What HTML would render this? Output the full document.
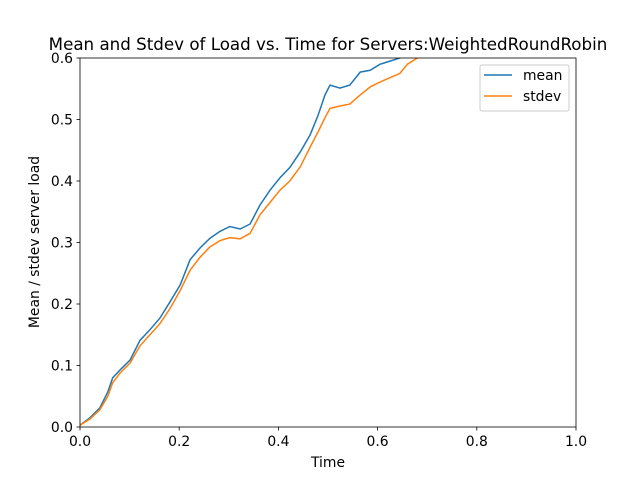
<!DOCTYPE html>
<html><head><meta charset="utf-8"><style>
body{margin:0;background:#fff;font-family:"Liberation Sans","DejaVu Sans",sans-serif}
svg text{font-family:"DejaVu Sans","Liberation Sans",sans-serif}
</style></head><body>
<svg id="chart" width="640" height="480" xmlns="http://www.w3.org/2000/svg"></svg>
<script>
const timeVals=[0,0.02,0.04,0.056,0.066,0.081,0.101,0.121,0.141,0.161,0.181,0.202,0.222,0.242,0.262,0.282,0.302,0.323,0.343,0.363,0.383,0.403,0.423,0.444,0.464,0.48,0.494,0.504,0.524,0.544,0.565,0.585,0.605,0.625,0.645,0.66,0.69];
const meanVals=[0.003,0.015,0.031,0.057,0.08,0.093,0.109,0.141,0.158,0.177,0.203,0.231,0.272,0.291,0.307,0.318,0.326,0.322,0.33,0.361,0.385,0.405,0.422,0.447,0.475,0.507,0.54,0.556,0.551,0.556,0.577,0.58,0.59,0.595,0.6,0.615,0.64];
const stdevVals=[0.003,0.013,0.028,0.05,0.072,0.088,0.104,0.132,0.15,0.168,0.192,0.222,0.255,0.276,0.293,0.303,0.308,0.306,0.315,0.345,0.365,0.385,0.4,0.423,0.455,0.48,0.503,0.518,0.522,0.525,0.54,0.553,0.561,0.568,0.575,0.59,0.605];
const xTicks=[0,0.2,0.4,0.6,0.8,1.0];
const yTicks=[0,0.1,0.2,0.3,0.4,0.5,0.6];
const L=80,R=576,T=58,B=427;
const X=v=>L+v*(R-L), Y=v=>B-v/0.6*(B-T);
const svg=document.getElementById('chart');
const NS='http://www.w3.org/2000/svg';
function el(tag,attrs,parent){const e=document.createElementNS(NS,tag);for(const k in attrs)e.setAttribute(k,attrs[k]);(parent||svg).appendChild(e);return e;}
const defs=el('defs',{});const cp=el('clipPath',{id:'cp'},defs);el('rect',{x:L,y:T,width:R-L,height:B-T},cp);
function series(vals,color,name){
  const d=timeVals.map((t,i)=>(i?'L':'M')+X(t).toFixed(1)+','+Y(vals[i]).toFixed(1)).join(' ');
  const p=el('path',{d:d,fill:'none',stroke:color,'stroke-width':1.5,'clip-path':'url(#cp)'});
  
  
}
series(meanVals,'#1f77b4','mean-line');
series(stdevVals,'#ff7f0e','stdev-line');
const frame=el('rect',{x:L,y:T,width:R-L,height:B-T,fill:'none',stroke:'#000','stroke-width':0.8});


xTicks.forEach(v=>{
  el('line',{x1:X(v),x2:X(v),y1:B,y2:B+3.5,stroke:'#000','stroke-width':0.8});
  const t=el('text',{x:X(v),y:B+19,'font-size':13.9,'text-anchor':'middle'});t.textContent=v.toFixed(1);
  
  
});
yTicks.forEach(v=>{
  el('line',{x1:L-3.5,x2:L,y1:Y(v),y2:Y(v),stroke:'#000','stroke-width':0.8});
  const t=el('text',{x:L-7,y:Y(v)+5,'font-size':13.9,'text-anchor':'end'});t.textContent=v.toFixed(1);
  
  
});
</script>
<svg style="position:absolute;left:0;top:0" width="640" height="480">
<text x="328" y="50" font-size="16.7" text-anchor="middle" style="font-family:'DejaVu Sans',sans-serif">Mean and Stdev of Load vs. Time for Servers:WeightedRoundRobin</text>
<text x="328" y="467" font-size="13.9" text-anchor="middle" style="font-family:'DejaVu Sans',sans-serif">Time</text>
<text transform="translate(39,242) rotate(-90)" font-size="13.9" text-anchor="middle" style="font-family:'DejaVu Sans',sans-serif">Mean / stdev server load</text>
<g>
<rect x="480" y="65" width="89" height="46" rx="2" fill="#fff" fill-opacity="0.8" stroke="#ccc"/>
<line x1="484" x2="512" y1="75" y2="75" stroke="#1f77b4" stroke-width="1.5"/>
<text x="523" y="80" font-size="13.9" style="font-family:'DejaVu Sans',sans-serif">mean</text>
<line x1="484" x2="512" y1="96" y2="96" stroke="#ff7f0e" stroke-width="1.5"/>
<text x="523" y="101" font-size="13.9" style="font-family:'DejaVu Sans',sans-serif">stdev</text>
</g>
</svg>
</body></html>
